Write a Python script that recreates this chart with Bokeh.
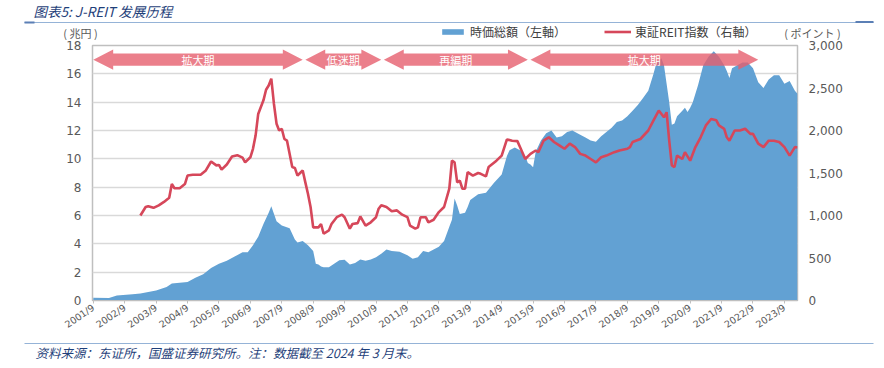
from bokeh.plotting import figure
from bokeh.models import (Range1d, LinearAxis, FixedTicker, NumeralTickFormatter,
                          Legend, LegendItem, ColumnDataSource)
from bokeh.layouts import column
from bokeh.embed import file_html
from bokeh.resources import INLINE
from bokeh.core.properties import value

# ---------------- data ----------------
cap_dates = ["2001-09", "2002-03", "2002-06", "2002-12", "2003-03", "2003-09", "2004-01", "2004-03",
             "2004-09", "2004-12", "2005-03", "2005-06", "2005-09", "2005-12", "2006-03", "2006-06",
             "2006-08", "2006-10", "2006-12", "2007-02", "2007-04", "2007-05", "2007-07", "2007-09",
             "2007-12", "2008-02", "2008-03", "2008-05", "2008-07", "2008-09", "2008-10", "2008-11",
             "2008-12", "2009-01", "2009-03", "2009-05", "2009-07", "2009-09", "2009-11", "2010-01",
             "2010-03", "2010-05", "2010-07", "2010-09", "2010-11", "2011-01", "2011-03", "2011-06",
             "2011-09", "2011-11", "2012-01", "2012-03", "2012-05", "2012-07", "2012-09", "2012-11",
             "2013-01", "2013-02", "2013-03", "2013-04", "2013-05", "2013-07", "2013-08", "2013-09",
             "2013-12", "2014-03", "2014-06", "2014-09", "2014-11", "2014-12", "2015-02", "2015-04",
             "2015-06", "2015-07", "2015-08", "2015-09", "2015-10", "2015-12", "2016-02", "2016-04",
             "2016-06", "2016-08", "2016-10", "2016-12", "2017-03", "2017-05", "2017-07", "2017-09",
             "2017-11", "2018-01", "2018-03", "2018-05", "2018-07", "2018-09", "2018-11", "2019-01",
             "2019-03", "2019-05", "2019-07", "2019-08", "2019-09", "2019-10", "2019-11", "2019-12",
             "2020-01", "2020-02", "2020-03", "2020-04", "2020-06", "2020-07", "2020-08", "2020-09",
             "2020-10", "2020-12", "2021-02", "2021-04", "2021-06", "2021-08", "2021-10", "2021-11",
             "2021-12", "2022-01", "2022-03", "2022-05", "2022-07", "2022-09", "2022-11", "2023-01",
             "2023-03", "2023-05", "2023-07", "2023-09", "2023-11", "2024-01", "2024-02"]
cap_values = [0.20, 0.18, 0.35, 0.45, 0.50, 0.70, 0.95, 1.20,
              1.30, 1.60, 1.85, 2.30, 2.60, 2.80, 3.10, 3.40,
              3.40, 3.90, 4.50, 5.40, 6.20, 6.65, 5.60, 5.30,
              5.10, 4.30, 4.10, 4.20, 3.90, 3.50, 2.60, 2.55,
              2.40, 2.35, 2.35, 2.60, 2.85, 2.87, 2.55, 2.65,
              2.90, 2.80, 2.90, 3.06, 3.30, 3.60, 3.50, 3.45,
              3.20, 2.95, 3.06, 3.50, 3.40, 3.60, 3.80, 4.20,
              5.20, 5.70, 7.20, 6.70, 6.10, 6.20, 6.60, 7.10,
              7.50, 7.60, 8.30, 8.90, 10.20, 10.60, 10.80, 10.60,
              10.20, 9.70, 9.60, 9.40, 10.50, 11.30, 11.80, 12.00,
              11.50, 11.60, 11.90, 12.00, 11.70, 11.50, 11.30, 11.20,
              11.60, 11.90, 12.20, 12.60, 12.70, 13.00, 13.40, 13.80,
              14.30, 14.80, 16.00, 16.70, 16.90, 17.10, 16.60, 15.30,
              14.00, 12.40, 12.50, 13.00, 13.40, 13.60, 13.30, 13.60,
              14.00, 15.20, 16.60, 17.20, 17.60, 17.20, 16.60, 16.20,
              15.70, 16.40, 16.60, 16.80, 16.80, 16.40, 15.40, 15.00,
              15.60, 15.90, 15.90, 15.30, 15.50, 14.80, 14.60]

idx_dates = ["2003-03", "2003-05", "2003-06", "2003-07", "2003-08", "2003-10", "2003-12", "2004-02",
             "2004-03", "2004-04", "2004-06", "2004-08", "2004-09", "2004-11", "2005-02", "2005-04",
             "2005-06", "2005-08", "2005-09", "2005-10", "2005-12", "2006-02", "2006-04", "2006-06",
             "2006-07", "2006-09", "2006-10", "2006-11", "2006-12", "2007-02", "2007-03", "2007-04",
             "2007-05", "2007-06", "2007-07", "2007-08", "2007-09", "2007-10", "2007-11", "2008-01",
             "2008-02", "2008-03", "2008-05", "2008-06", "2008-07", "2008-08", "2008-09", "2008-11",
             "2008-12", "2009-01", "2009-03", "2009-04", "2009-06", "2009-08", "2009-09", "2009-11",
             "2009-12", "2010-02", "2010-03", "2010-05", "2010-07", "2010-09", "2010-10", "2010-11",
             "2011-01", "2011-03", "2011-05", "2011-07", "2011-09", "2011-10", "2011-12", "2012-01",
             "2012-02", "2012-04", "2012-05", "2012-07", "2012-09", "2012-11", "2013-01", "2013-02",
             "2013-03", "2013-04", "2013-05", "2013-06", "2013-07", "2013-08", "2013-10", "2013-12",
             "2014-01", "2014-03", "2014-04", "2014-07", "2014-09", "2014-11", "2015-01", "2015-03",
             "2015-04", "2015-06", "2015-08", "2015-10", "2015-11", "2016-01", "2016-03", "2016-05",
             "2016-07", "2016-09", "2016-11", "2017-01", "2017-03", "2017-05", "2017-07", "2017-09",
             "2017-11", "2018-01", "2018-04", "2018-06", "2018-09", "2018-10", "2018-11", "2019-02",
             "2019-05", "2019-07", "2019-09", "2019-11", "2019-12", "2020-01", "2020-02", "2020-03",
             "2020-04", "2020-06", "2020-07", "2020-09", "2020-11", "2021-01", "2021-03", "2021-05",
             "2021-07", "2021-08", "2021-10", "2021-11", "2021-12", "2022-02", "2022-04", "2022-06",
             "2022-08", "2022-09", "2022-11", "2023-01", "2023-03", "2023-05", "2023-07", "2023-09",
             "2023-11", "2024-01", "2024-02"]
idx_values = [1000, 1100, 1110, 1100, 1090, 1120, 1160, 1210,
              1370, 1320, 1320, 1370, 1470, 1480, 1480, 1530,
              1635, 1590, 1595, 1540, 1600, 1695, 1710, 1680,
              1625, 1685, 1785, 1940, 2195, 2355, 2480, 2530,
              2610, 2315, 2080, 2000, 2020, 1900, 1880, 1570,
              1560, 1470, 1530, 1390, 1255, 1100, 860, 860,
              900, 785, 825, 900, 980, 1010, 980, 845,
              900, 910, 990, 880, 920, 980, 1080, 1120,
              1100, 1050, 1060, 1010, 980, 880, 845, 860,
              980, 980, 920, 950, 1040, 1100, 1315, 1645,
              1625, 1390, 1410, 1315, 1315, 1510, 1470, 1500,
              1490, 1460, 1570, 1645, 1705, 1895, 1880, 1875,
              1805, 1665, 1725, 1765, 1745, 1880, 1920, 1865,
              1825, 1785, 1845, 1805, 1725, 1705, 1665, 1625,
              1685, 1705, 1745, 1765, 1785, 1805, 1865, 1900,
              2000, 2120, 2235, 2155, 2215, 1880, 1590, 1570,
              1705, 1665, 1745, 1645, 1805, 1920, 2060, 2135,
              2120, 2060, 2020, 1920, 1880, 2000, 2000, 2020,
              1960, 1960, 1845, 1805, 1880, 1880, 1865, 1805,
              1705, 1805, 1800]

tick_years = list(range(2001, 2024))
left_ticks = [0, 2, 4, 6, 8, 10, 12, 14, 16, 18]
right_ticks = [0, 500, 1000, 1500, 2000, 2500, 3000]

period_names = ["拡大期", "低迷期", "再編期", "拡大期"]
period_start = ["2001-09", "2008-06", "2010-12", "2015-08"]
period_end = ["2008-05", "2010-11", "2015-07", "2022-11"]

series_names = ["時価総額（左軸）", "東証REIT指数（右軸）"]
unit_left = "( 兆円 )"
unit_right = "( ポイント )"
title_text = "图表5:  J-REIT 发展历程"
source_text = "资料来源：东证所，国盛证券研究所。注：数据截至 2024 年 3 月末。"

# ---------------- styles ----------------
W = 884
BLUE = "#62A1D3"
RED = "#D6475A"
PINK = "#E65F6E"
GRID = "#D9D9D9"
AXC = "#BFBFBF"
TXT = "#595959"
NAVY = "#1F3F7A"
RULE = "#95B3D7"
JP = "Noto Sans CJK JP"
SC = "Noto Sans CJK SC"


def midx(s):
    y, m = s.split("-")
    return (int(y) - 2001) * 12 + (int(m) - 9)


def bare(fig):
    fig.axis.visible = False
    fig.grid.visible = False
    fig.outline_line_color = None
    fig.frame_align = False


# ---------------- header (title, rule, legend, axis units) ----------------
HH_ = 40
h = figure(width=W, height=HH_, output_backend="svg", toolbar_location=None,
           x_range=Range1d(0, W), y_range=Range1d(0, HH_), min_border=0)
bare(h)
h.text(x=[33], y=[HH_ - 10], text=[title_text], text_font=value(SC), text_font_size="13.5px",
       text_font_style="italic", text_color=NAVY, text_baseline="middle", text_align="left")
h.segment(x0=[24], y0=[HH_ - 22], x1=[873], y1=[HH_ - 22], line_color=RULE, line_width=1.2)
h.segment(x0=[24, 855], y0=[HH_ - 22, HH_ - 21.5], x1=[34, 873], y1=[HH_ - 22, HH_ - 21.5],
          line_color="#5B7FB5", line_width=2)
h.text(x=[80, 812], y=[HH_ - 32.5, HH_ - 32.5], text=[unit_left, unit_right], text_font=value(JP),
       text_font_size="11px", text_color=TXT, text_align="center", text_baseline="middle")

# legend proxies (same styles as the plotted series, drawn off-range)
lg_area = h.varea(x=[-100, -90], y1=[0, 0], y2=[1, 1], fill_color=BLUE)
lg_line = h.line(x=[-100, -90], y=[0, 0], line_color=RED, line_width=2.6)
legend = Legend(items=[LegendItem(label=series_names[0], renderers=[lg_area]),
                       LegendItem(label=series_names[1], renderers=[lg_line])],
                orientation="horizontal", location=(439, 0),
                glyph_width=27, glyph_height=7, label_height=12, label_standoff=4, spacing=38,
                padding=0, margin=0, border_line_color=None, background_fill_alpha=0,
                label_text_font=JP, label_text_font_size="12px", label_text_color="#404040")
h.add_layout(legend)

# ---------------- main plot ----------------
p = figure(width=W, height=298, output_backend="svg", toolbar_location=None,
           x_range=Range1d(-0.3, 269), y_range=Range1d(0, 18),
           min_border_left=92, min_border_right=87, min_border_top=5, min_border_bottom=38)
p.frame_align = False
p.extra_y_ranges = {"idx": Range1d(0, 3000)}
p.outline_line_color = AXC
p.outline_line_width = 1.5

cap_src = ColumnDataSource(dict(x=[midx(d) for d in cap_dates], y=cap_values))
idx_src = ColumnDataSource(dict(x=[midx(d) for d in idx_dates], y=idx_values))

area_r = p.varea(x="x", y1=0, y2="y", source=cap_src, fill_color=BLUE)
line_r = p.line(x="x", y="y", source=idx_src, y_range_name="idx", line_color=RED, line_width=2.6)

# period arrows
HEAD = 7.6      # months
HH = 0.72       # head half height
BH = 0.43       # body half height
CY = 17.0
xs, ys, tx = [], [], []
for s, e in zip(period_start, period_end):
    a, b = midx(s), midx(e)
    xs.append([a, a + HEAD, a + HEAD, b - HEAD, b - HEAD, b, b - HEAD, b - HEAD, a + HEAD, a + HEAD])
    ys.append([CY, CY + HH, CY + BH, CY + BH, CY + HH, CY, CY - HH, CY - BH, CY - BH, CY - HH])
    tx.append((a + b) / 2)
p.patches(xs=xs, ys=ys, fill_color=PINK, fill_alpha=0.8, line_color=None)
p.text(x=tx, y=[CY] * len(tx), text=period_names, text_color="white", text_font=value(JP),
       text_font_size="11px", text_align="center", text_baseline="middle")

# grid and axes
p.xgrid.grid_line_color = None
p.ygrid.ticker = FixedTicker(ticks=left_ticks[1:-1])
p.ygrid.grid_line_color = GRID
p.ygrid.grid_line_width = 1.5

ya = p.yaxis[0]
ya.ticker = FixedTicker(ticks=left_ticks)
ya.axis_line_color = None
ya.major_tick_line_color = None
ya.minor_tick_line_color = None
ya.major_label_standoff = 5
ya.major_label_text_font = "DejaVu Sans"
ya.major_label_text_font_size = "12px"
ya.major_label_text_color = TXT

ra = LinearAxis(y_range_name="idx", ticker=FixedTicker(ticks=right_ticks),
                formatter=NumeralTickFormatter(format="0,0"))
ra.axis_line_color = None
ra.major_tick_line_color = None
ra.minor_tick_line_color = None
ra.major_label_standoff = 5
ra.major_label_text_font = "DejaVu Sans"
ra.major_label_text_font_size = "12px"
ra.major_label_text_color = TXT
p.add_layout(ra, "right")

xa = p.xaxis[0]
xt = [midx(f"{y}-09") for y in tick_years]
xa.ticker = FixedTicker(ticks=xt)
xa.major_label_overrides = {t: f"{y}/9" for t, y in zip(xt, tick_years)}
xa.major_label_orientation = 0.6
xa.axis_line_color = AXC
xa.major_tick_line_color = AXC
xa.major_tick_in = 0
xa.major_tick_out = 3
xa.minor_tick_line_color = None
xa.major_label_standoff = 3
xa.major_label_text_font = "DejaVu Sans"
xa.major_label_text_font_size = "9.5px"
xa.major_label_text_color = TXT

# ---------------- footer ----------------
FH = 30
f = figure(width=W, height=FH, output_backend="svg", toolbar_location=None,
           x_range=Range1d(0, W), y_range=Range1d(0, FH), min_border=0)
bare(f)
f.segment(x0=[24], y0=[FH - 5], x1=[873], y1=[FH - 5], line_color=RULE, line_width=1.2)
f.text(x=[35], y=[FH - 14], text=[source_text], text_font=value(SC), text_font_size="12.5px",
       text_font_style="italic", text_color=NAVY, text_baseline="middle", text_align="left")

layout = column(h, p, f, spacing=0)
open("out.html", "w").write(file_html(layout, INLINE))
